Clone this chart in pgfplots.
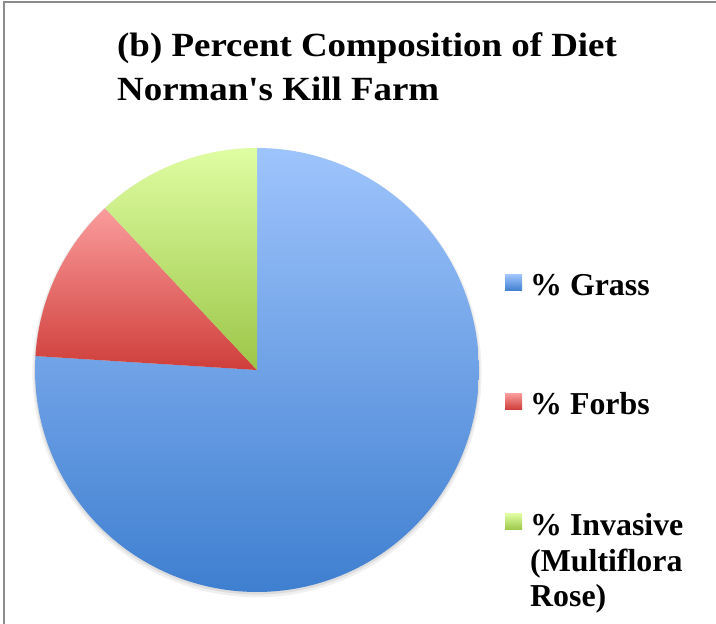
\documentclass[border=0pt]{standalone}
\usepackage{pgfplots}
\pgfplotsset{compat=1.18}
\usepackage{fontspec}
\setmainfont{Liberation Serif}

% shares of the diet, in percent
\def\shareGrass{76}
\def\shareForbs{12}
\def\shareInvasive{12}

\definecolor{grassTop}{HTML}{9EC4FC}
\definecolor{grassBot}{HTML}{3F7FD0}
\definecolor{forbsTop}{HTML}{FA9C9C}
\definecolor{forbsBot}{HTML}{CF3E3A}
\definecolor{invTop}{HTML}{DFFDA2}
\definecolor{invBot}{HTML}{9CC648}

% slices run clockwise from twelve o'clock
\pgfmathsetmacro{\aA}{90}
\pgfmathsetmacro{\aB}{\aA-3.6*\shareGrass}
\pgfmathsetmacro{\aC}{\aB-3.6*\shareForbs}
\pgfmathsetmacro{\aD}{\aC-3.6*\shareInvasive}

\newcommand{\titlefont}{\bfseries\fontsize{34}{40}\selectfont}

\begin{document}
\begin{tikzpicture}
\useasboundingbox (0,0) rectangle (716bp,624bp);
\draw[color=black!45, line width=1.4bp] (4bp,0) -- (4bp,622bp) -- (716bp,622bp);

\node[anchor=base west, inner sep=0pt, font=\titlefont]
  at (117bp,567bp) {\scalebox{1.09}[1]{(b) Percent Composition of Diet}};
\node[anchor=base west, inner sep=0pt, font=\titlefont]
  at (117bp,523bp) {\scalebox{1.09}[1]{Norman\textquotesingle s Kill Farm}};

\begin{axis}[
  at={(35bp,32bp)}, anchor=south west,
  width=444bp, height=444bp, scale only axis,
  xmin=-1, xmax=1, ymin=-1, ymax=1,
  hide axis, clip=false,
  legend cell align=left,
  legend image code/.code={\fill[#1] (0bp,-5.5bp) rectangle (17bp,10.5bp);},
  legend style={
    at={(1.0586,0.7215)}, anchor=north west, draw=none, fill=none,
    font=\bfseries\fontsize{32}{35.5}\selectfont,
    row sep=91.5bp, inner sep=0pt,
    nodes={inner xsep=8bp},
  },
]
% soft shadow under the pie
\addplot[forget plot, draw=none, fill=black, fill opacity=0.06,
  domain=0:360, samples=120, variable=\t] ({1.012*cos(\t)},{1.012*sin(\t)-0.012}) -- cycle;
\addplot[forget plot, draw=none, fill=black, fill opacity=0.08,
  domain=0:360, samples=120, variable=\t] ({1.004*cos(\t)},{1.004*sin(\t)-0.008}) -- cycle;

\addplot[draw=none, top color=grassTop, bottom color=grassBot,
  domain=\aA:\aB, samples=140, variable=\t]
  ({cos(\t)},{sin(\t)}) -- (axis cs:0,0) -- cycle;
\addlegendentry{\% Grass}
\addplot[draw=none, top color=forbsTop, bottom color=forbsBot,
  domain=\aB:\aC, samples=40, variable=\t]
  ({cos(\t)},{sin(\t)}) -- (axis cs:0,0) -- cycle;
\addlegendentry{\% Forbs}
\addplot[draw=none, top color=invTop, bottom color=invBot,
  domain=\aC:\aD, samples=40, variable=\t]
  ({cos(\t)},{sin(\t)}) -- (axis cs:0,0) -- cycle;
\addlegendentry{\begin{tabular}[t]{@{}l@{}}\% Invasive\\(Multiflora\\Rose)\end{tabular}}
\end{axis}
\end{tikzpicture}
\end{document}
